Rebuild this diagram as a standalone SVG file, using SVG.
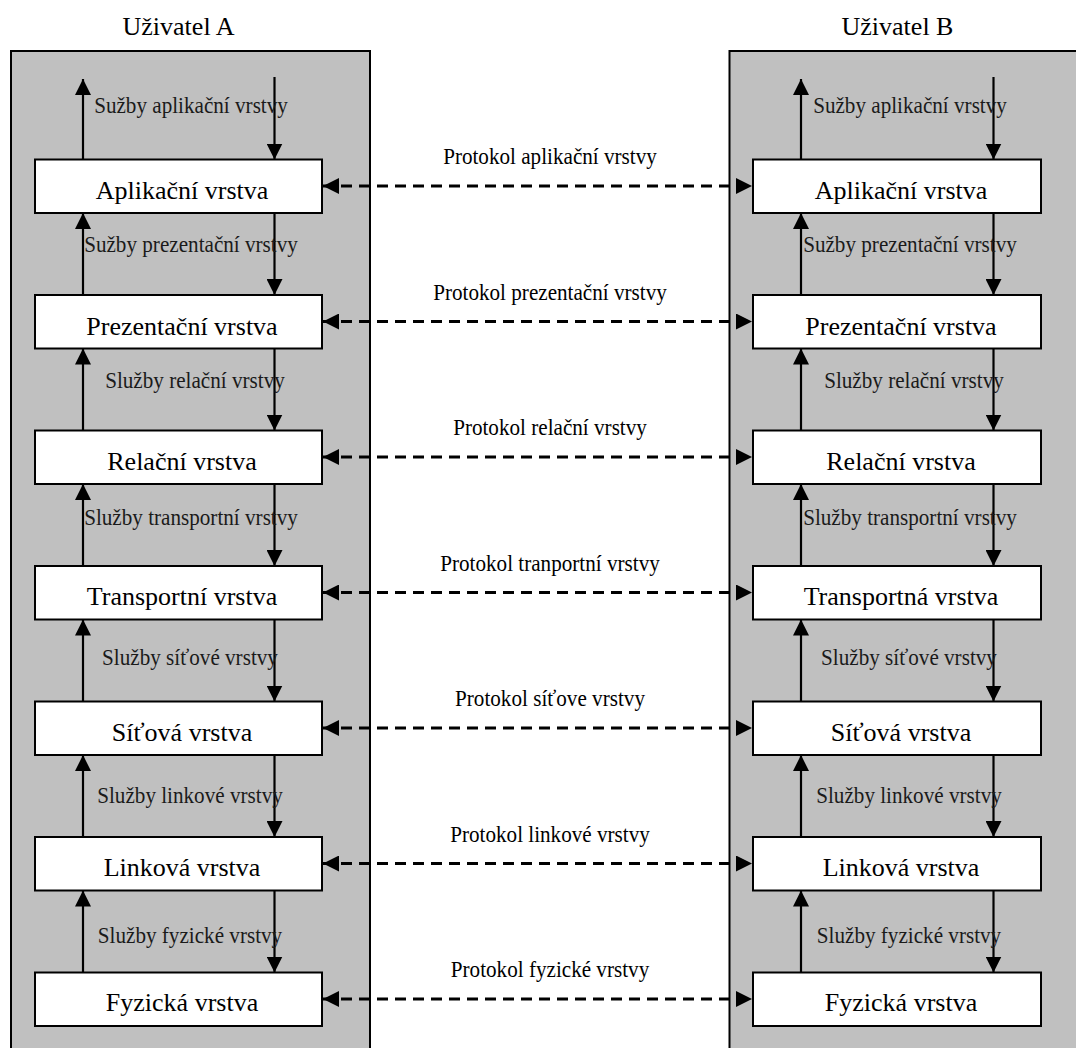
<svg xmlns="http://www.w3.org/2000/svg" width="1076" height="1048" viewBox="0 0 1076 1048">
  <style>
    .panel { fill: #c0c0c0; stroke: #000; stroke-width: 2; }
    .layer { fill: #fff; stroke: #000; stroke-width: 2; }
    .title { font-family: "Liberation Serif", "Times New Roman", serif; font-size: 26px; fill: #000; text-anchor: middle; }
    .lname { font-family: "Liberation Serif", "Times New Roman", serif; font-size: 26px; fill: #000; text-anchor: middle; }
    .svc { font-family: "Liberation Serif", "Times New Roman", serif; font-size: 23px; fill: #1a1a1a; text-anchor: middle; }
    .proto { font-family: "Liberation Serif", "Times New Roman", serif; font-size: 23px; fill: #000; text-anchor: middle; }
    .flow { stroke: #000; stroke-width: 2.2; fill: none; marker-end: url(#head); }
    .peer { stroke: #000; stroke-width: 3; fill: none; stroke-dasharray: 11 7; marker-start: url(#headStart); marker-end: url(#head); }
  </style>
  <defs>
    <marker id="head" markerUnits="userSpaceOnUse" markerWidth="16" markerHeight="16" refX="16" refY="8" orient="auto">
      <path d="M0,0 L16,8 L0,16 Z" fill="#000"/>
    </marker>
    <marker id="headStart" markerUnits="userSpaceOnUse" markerWidth="16" markerHeight="16" refX="0" refY="8" orient="auto">
      <path d="M16,0 L0,8 L16,16 Z" fill="#000"/>
    </marker>
  </defs>

  <!-- end systems -->
  <g id="userA">
    <rect class="panel" x="11" y="51" width="359" height="1010"/>
    <text class="title" x="178.5" y="35">Uživatel A</text>
  </g>
  <g id="userB">
    <rect class="panel" x="729.5" y="51" width="360" height="1010"/>
    <text class="title" x="897.5" y="35">Uživatel B</text>
  </g>

  <!-- service arrows and peer protocol links -->
  <g id="connectors">
    <!-- user A: up / down between layers -->
    <line class="flow" x1="83" y1="159.5" x2="83" y2="79"/>
    <line class="flow" x1="274.5" y1="77" x2="274.5" y2="159.5"/>
    <line class="flow" x1="83" y1="295" x2="83" y2="213"/>
    <line class="flow" x1="274.5" y1="213" x2="274.5" y2="295"/>
    <line class="flow" x1="83" y1="430.5" x2="83" y2="348.5"/>
    <line class="flow" x1="274.5" y1="348.5" x2="274.5" y2="430.5"/>
    <line class="flow" x1="83" y1="566" x2="83" y2="484"/>
    <line class="flow" x1="274.5" y1="484" x2="274.5" y2="566"/>
    <line class="flow" x1="83" y1="701.5" x2="83" y2="619.5"/>
    <line class="flow" x1="274.5" y1="619.5" x2="274.5" y2="701.5"/>
    <line class="flow" x1="83" y1="837" x2="83" y2="755"/>
    <line class="flow" x1="274.5" y1="755" x2="274.5" y2="837"/>
    <line class="flow" x1="83" y1="972.5" x2="83" y2="890.5"/>
    <line class="flow" x1="274.5" y1="890.5" x2="274.5" y2="972.5"/>

    <!-- user B: up / down between layers -->
    <line class="flow" x1="801" y1="159.5" x2="801" y2="79"/>
    <line class="flow" x1="993.5" y1="77" x2="993.5" y2="159.5"/>
    <line class="flow" x1="801" y1="295" x2="801" y2="213"/>
    <line class="flow" x1="993.5" y1="213" x2="993.5" y2="295"/>
    <line class="flow" x1="801" y1="430.5" x2="801" y2="348.5"/>
    <line class="flow" x1="993.5" y1="348.5" x2="993.5" y2="430.5"/>
    <line class="flow" x1="801" y1="566" x2="801" y2="484"/>
    <line class="flow" x1="993.5" y1="484" x2="993.5" y2="566"/>
    <line class="flow" x1="801" y1="701.5" x2="801" y2="619.5"/>
    <line class="flow" x1="993.5" y1="619.5" x2="993.5" y2="701.5"/>
    <line class="flow" x1="801" y1="837" x2="801" y2="755"/>
    <line class="flow" x1="993.5" y1="755" x2="993.5" y2="837"/>
    <line class="flow" x1="801" y1="972.5" x2="801" y2="890.5"/>
    <line class="flow" x1="993.5" y1="890.5" x2="993.5" y2="972.5"/>

    <!-- peer-to-peer protocols -->
    <line class="peer" x1="323" y1="186" x2="752" y2="186"/>
    <line class="peer" x1="323" y1="321.5" x2="752" y2="321.5"/>
    <line class="peer" x1="323" y1="457" x2="752" y2="457"/>
    <line class="peer" x1="323" y1="592.5" x2="752" y2="592.5"/>
    <line class="peer" x1="323" y1="728" x2="752" y2="728"/>
    <line class="peer" x1="323" y1="863.5" x2="752" y2="863.5"/>
    <line class="peer" x1="323" y1="999" x2="752" y2="999"/>

    <!-- service labels -->
    <text class="svc" transform="translate(191,113) scale(0.92,1)">Sužby aplikační vrstvy</text>
    <text class="svc" transform="translate(191,252) scale(0.92,1)">Sužby prezentační vrstvy</text>
    <text class="svc" transform="translate(195,388) scale(0.92,1)">Služby relační vrstvy</text>
    <text class="svc" transform="translate(191,525) scale(0.92,1)">Služby transportní vrstvy</text>
    <text class="svc" transform="translate(190,665) scale(0.92,1)">Služby síťové vrstvy</text>
    <text class="svc" transform="translate(190,803) scale(0.92,1)">Služby linkové vrstvy</text>
    <text class="svc" transform="translate(190,943) scale(0.92,1)">Služby fyzické vrstvy</text>

    <text class="svc" transform="translate(910,113) scale(0.92,1)">Sužby aplikační vrstvy</text>
    <text class="svc" transform="translate(910,252) scale(0.92,1)">Sužby prezentační vrstvy</text>
    <text class="svc" transform="translate(914,388) scale(0.92,1)">Služby relační vrstvy</text>
    <text class="svc" transform="translate(910,525) scale(0.92,1)">Služby transportní vrstvy</text>
    <text class="svc" transform="translate(909,665) scale(0.92,1)">Služby síťové vrstvy</text>
    <text class="svc" transform="translate(909,803) scale(0.92,1)">Služby linkové vrstvy</text>
    <text class="svc" transform="translate(909,943) scale(0.92,1)">Služby fyzické vrstvy</text>

    <!-- protocol labels -->
    <text class="proto" transform="translate(550,164) scale(0.92,1)">Protokol aplikační vrstvy</text>
    <text class="proto" transform="translate(550,300) scale(0.92,1)">Protokol prezentační vrstvy</text>
    <text class="proto" transform="translate(550,435) scale(0.92,1)">Protokol relační vrstvy</text>
    <text class="proto" transform="translate(550,571) scale(0.92,1)">Protokol tranportní vrstvy</text>
    <text class="proto" transform="translate(550,706) scale(0.92,1)">Protokol síťove vrstvy</text>
    <text class="proto" transform="translate(550,842) scale(0.92,1)">Protokol linkové vrstvy</text>
    <text class="proto" transform="translate(550,977) scale(0.92,1)">Protokol fyzické vrstvy</text>
  </g>

  <!-- layers of user A -->
  <g id="a-app"><rect class="layer" x="35" y="159.5" width="287" height="53.5"/><text class="lname" x="182" y="199">Aplikační vrstva</text></g>
  <g id="a-pres"><rect class="layer" x="35" y="295" width="287" height="53.5"/><text class="lname" x="182" y="334.5">Prezentační vrstva</text></g>
  <g id="a-sess"><rect class="layer" x="35" y="430.5" width="287" height="53.5"/><text class="lname" x="182" y="470">Relační vrstva</text></g>
  <g id="a-trans"><rect class="layer" x="35" y="566" width="287" height="53.5"/><text class="lname" x="182" y="605">Transportní vrstva</text></g>
  <g id="a-net"><rect class="layer" x="35" y="701.5" width="287" height="53.5"/><text class="lname" x="182" y="740.5">Síťová vrstva</text></g>
  <g id="a-link"><rect class="layer" x="35" y="837" width="287" height="53.5"/><text class="lname" x="182" y="876">Linková vrstva</text></g>
  <g id="a-phys"><rect class="layer" x="35" y="972.5" width="287" height="53.5"/><text class="lname" x="182" y="1011">Fyzická vrstva</text></g>

  <!-- layers of user B -->
  <g id="b-app"><rect class="layer" x="753" y="159.5" width="288" height="53.5"/><text class="lname" x="901" y="199">Aplikační vrstva</text></g>
  <g id="b-pres"><rect class="layer" x="753" y="295" width="288" height="53.5"/><text class="lname" x="901" y="334.5">Prezentační vrstva</text></g>
  <g id="b-sess"><rect class="layer" x="753" y="430.5" width="288" height="53.5"/><text class="lname" x="901" y="470">Relační vrstva</text></g>
  <g id="b-trans"><rect class="layer" x="753" y="566" width="288" height="53.5"/><text class="lname" x="901" y="605">Transportná vrstva</text></g>
  <g id="b-net"><rect class="layer" x="753" y="701.5" width="288" height="53.5"/><text class="lname" x="901" y="740.5">Síťová vrstva</text></g>
  <g id="b-link"><rect class="layer" x="753" y="837" width="288" height="53.5"/><text class="lname" x="901" y="876">Linková vrstva</text></g>
  <g id="b-phys"><rect class="layer" x="753" y="972.5" width="288" height="53.5"/><text class="lname" x="901" y="1011">Fyzická vrstva</text></g>
</svg>
